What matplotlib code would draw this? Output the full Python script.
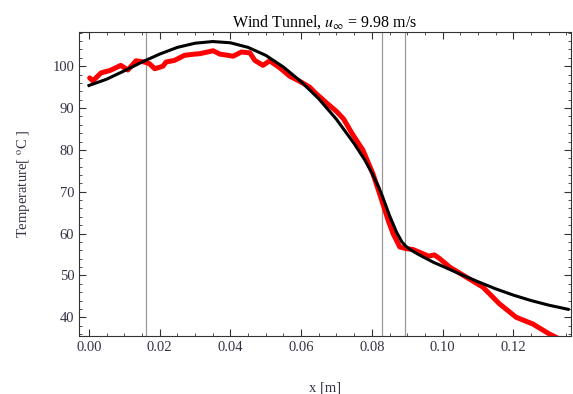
import matplotlib
matplotlib.use('Agg')
import matplotlib.pyplot as plt
from matplotlib.ticker import MultipleLocator

# measured temperature (red)
x_meas = [0.0002, 0.0011, 0.0034, 0.0060, 0.0090, 0.0110, 0.0133, 0.0157, 0.0171, 0.0186,
          0.0209, 0.0218, 0.0242, 0.0270, 0.0299, 0.0314, 0.0351, 0.0370, 0.0408, 0.0431,
          0.0455, 0.0469, 0.0492, 0.0511, 0.0540, 0.0568, 0.0596, 0.0624, 0.0643, 0.0675,
          0.0700, 0.0720, 0.0745, 0.0775, 0.0803, 0.0822, 0.0846, 0.0860, 0.0879, 0.0897,
          0.0916, 0.0944, 0.0960, 0.0977, 0.0992, 0.1020, 0.1067, 0.1114, 0.1161, 0.1208,
          0.1255, 0.1302, 0.1326, 0.1340]
t_meas = [97.2, 96.5, 98.4, 99.0, 100.2, 99.1, 101.3, 101.0, 100.6, 99.4,
          100.0, 101.0, 101.4, 102.6, 102.9, 103.0, 103.7, 102.9, 102.4, 103.4,
          103.2, 101.4, 100.2, 101.3, 99.6, 97.6, 96.4, 95.0, 93.4, 91.0,
          89.2, 87.4, 83.8, 79.9, 74.3, 69.5, 63.2, 60.0, 56.8, 56.4,
          56.2, 55.2, 54.6, 54.9, 54.0, 52.0, 49.6, 47.2, 43.2, 40.0,
          38.4, 36.0, 35.0, 34.2]

# model curve (black)
x_fit = [0.0000, 0.0050, 0.0100, 0.0150, 0.0200, 0.0250, 0.0300, 0.0350, 0.0400, 0.0450,
         0.0500, 0.0550, 0.0600, 0.0650, 0.0700, 0.0750, 0.0780, 0.0800, 0.0820, 0.0830,
         0.0850, 0.0870, 0.0885, 0.0897, 0.0910, 0.0930, 0.0950, 0.0975, 0.1000, 0.1050,
         0.1100, 0.1150, 0.1200, 0.1250, 0.1300, 0.1355]
t_fit = [95.4, 96.9, 98.9, 101.0, 102.9, 104.5, 105.5, 105.9, 105.6, 104.5,
         102.6, 99.8, 96.3, 92.2, 87.3, 81.5, 77.6, 74.5, 71.0, 68.9,
         64.3, 60.3, 58.0, 56.9, 56.1, 55.1, 54.2, 53.1, 52.2, 50.3,
         48.5, 46.8, 45.3, 44.0, 42.9, 41.9]

vlines = [0.0161, 0.0828, 0.0895]

plt.rcParams['font.family'] = ['Liberation Serif', 'DejaVu Serif']
plt.rcParams['mathtext.fontset'] = 'stix'

fig = plt.figure(figsize=(5.73, 3.94), dpi=100)
ax = fig.add_axes([0.138, 0.147, 0.859, 0.772])

for v in vlines:
    ax.axvline(v, color='#999999', lw=0.9, zorder=1)
ax.plot(x_meas, t_meas, color='#ff0000', lw=3.6, solid_capstyle='round',
        solid_joinstyle='round', zorder=2)
ax.plot(x_fit, t_fit, color='black', lw=2.2, solid_joinstyle='round', zorder=3)

ax.set_xlim(-0.0028, 0.1364)
ax.set_ylim(35.5, 108.2)
ax.xaxis.set_major_locator(MultipleLocator(0.02))
ax.xaxis.set_minor_locator(MultipleLocator(0.005))
ax.yaxis.set_major_locator(MultipleLocator(10))
ax.yaxis.set_minor_locator(MultipleLocator(2))
ax.xaxis.set_major_formatter(plt.FuncFormatter(lambda v, p: f'{v:.2f}'))
ax.tick_params(which='both', direction='in', top=True, right=True,
               labelsize=10.5, labelcolor='#333344', color='#333333')
ax.tick_params(which='major', length=5, width=0.8)
ax.tick_params(which='minor', length=2.5, width=0.6)
for s in ax.spines.values():
    s.set_linewidth(0.8)
    s.set_color('#333333')

ax.set_title(r'Wind Tunnel, $u_{\infty}$ = 9.98 m/s', fontsize=11.5, pad=4)
ax.set_xlabel('x [m]', fontsize=10.5, labelpad=20, color='#333344')
ax.set_ylabel('Temperature[ $^{\\rm o}$C ]', fontsize=10.5, labelpad=14, color='#333344')

fig.savefig('out.png', dpi=100)
